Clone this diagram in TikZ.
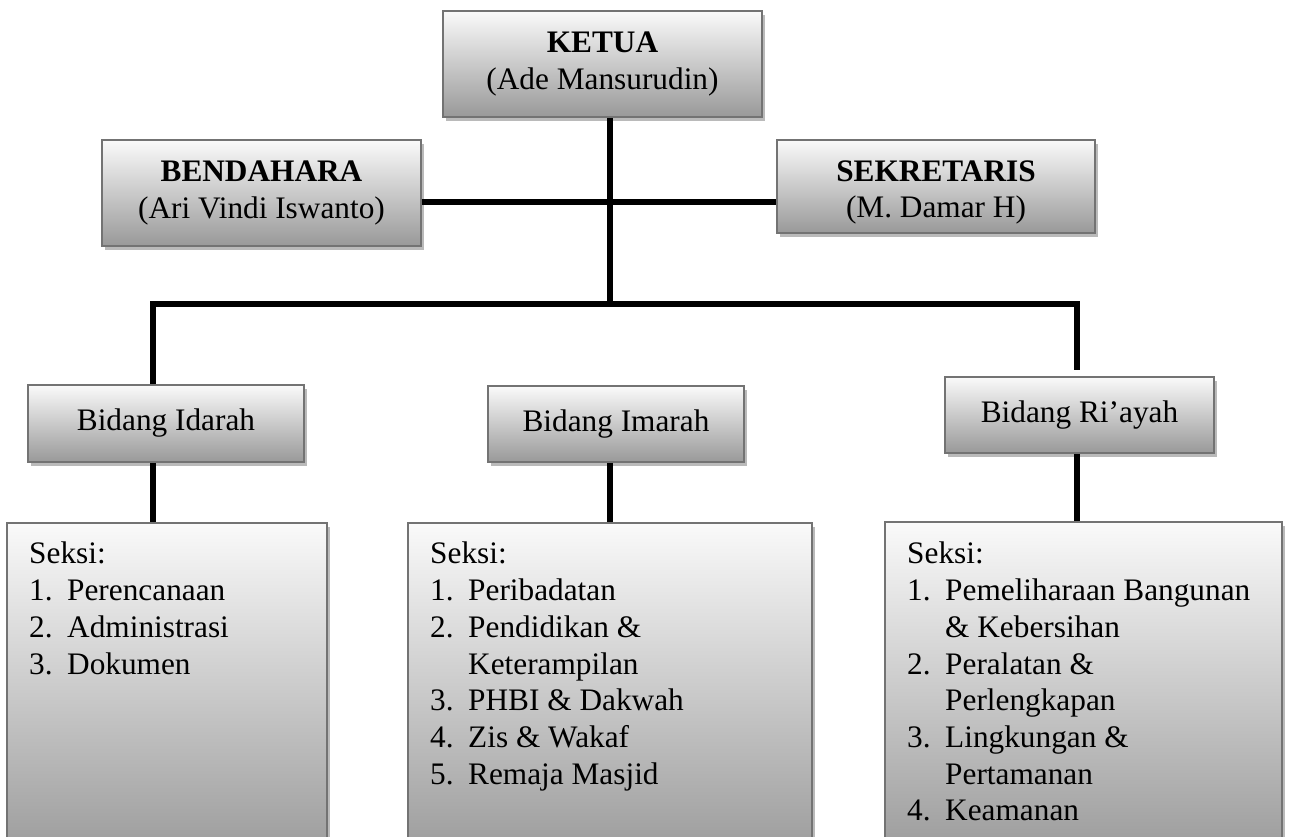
\documentclass[tikz,border=0pt]{standalone}
\usepackage{fontspec}
\setmainfont{Liberation Serif}
\usetikzlibrary{shadows}
\tikzset{
  orgbox/.style={draw=black!55, line width=1.8pt, top color=black!2, bottom color=black!40,
    drop shadow={shadow xshift=3pt, shadow yshift=-4pt, fill=black!27, opacity=1},
    inner sep=0pt, align=center, font=\fontsize{31.3}{36.5}\selectfont},
  listtext/.style={anchor=north west, inner sep=0pt, align=left, font=\fontsize{31.3}{36.7}\selectfont},
  conn/.style={line width=6pt, black}
}
\newcommand{\itm}[1]{\makebox[38pt][l]{#1}}
\begin{document}
\begin{tikzpicture}[x=1pt,y=-1pt]
\useasboundingbox (0,0) rectangle (1289,837);
\clip (0,0) rectangle (1289,837);
\fill[white] (0,0) rectangle (1289,837);

% connector coordinates
\coordinate (busL) at (153,304);
\coordinate (busR) at (1077,304);
\coordinate (trunk) at (610,304);
\coordinate (cross) at (610,202);
\coordinate (riEnd) at (1077,370);

% boxes
\node[orgbox, minimum width=319pt, minimum height=106pt] (ketua) at (602.5,64) {\textbf{KETUA}\\(Ade Mansurudin)};
\node[orgbox, minimum width=319pt, minimum height=106pt] (bendahara) at (261.5,193) {\textbf{BENDAHARA}\\(Ari Vindi Iswanto)};
\node[orgbox, minimum width=318pt, minimum height=93pt] (sekretaris) at (936,186.5) {\rule{0pt}{33pt}\textbf{SEKRETARIS}\\(M. Damar H)};
\node[orgbox, minimum width=276pt, minimum height=77pt] (idarah) at (166,423.5) {Bidang Idarah};
\node[orgbox, minimum width=256pt, minimum height=76pt] (imarah) at (616,424) {Bidang Imarah};
\node[orgbox, minimum width=269pt, minimum height=76pt] (riayah) at (1079.5,415) {Bidang Ri’ayah};

\node[orgbox, minimum width=320pt, minimum height=340pt] (seksiA) at (167,693) {};
\node[orgbox, minimum width=404pt, minimum height=340pt] (seksiB) at (610,693) {};
\node[orgbox, minimum width=397pt, minimum height=340pt] (seksiC) at (1083.5,692) {};

% list texts
\node[listtext] (listA) at (29,542) {Seksi:\\\itm{1.}Perencanaan\\\itm{2.}Administrasi\\\itm{3.}Dokumen};
\node[listtext] (listB) at (430,542) {Seksi:\\\itm{1.}Peribadatan\\\itm{2.}Pendidikan \&\\\itm{}Keterampilan\\\itm{3.}PHBI \& Dakwah\\\itm{4.}Zis \& Wakaf\\\itm{5.}Remaja Masjid};
\node[listtext] (listC) at (907,542) {Seksi:\\\itm{1.}Pemeliharaan Bangunan\\\itm{}\& Kebersihan\\\itm{2.}Peralatan \&\\\itm{}Perlengkapan\\\itm{3.}Lingkungan \&\\\itm{}Pertamanan\\\itm{4.}Keamanan};

% connectors
\draw[conn] (ketua.south -| trunk) -- (trunk);
\draw[conn] (bendahara.east |- cross) -- (sekretaris.west |- cross);
\draw[conn] (idarah.north -| busL) -- (busL) -- (busR) -- (riEnd);
\draw[conn] (idarah.south -| busL) -- (seksiA.north -| busL);
\draw[conn] (imarah.south -| trunk) -- (seksiB.north -| trunk);
\draw[conn] (riayah.south -| busR) -- (seksiC.north -| busR);
\end{tikzpicture}
\end{document}
